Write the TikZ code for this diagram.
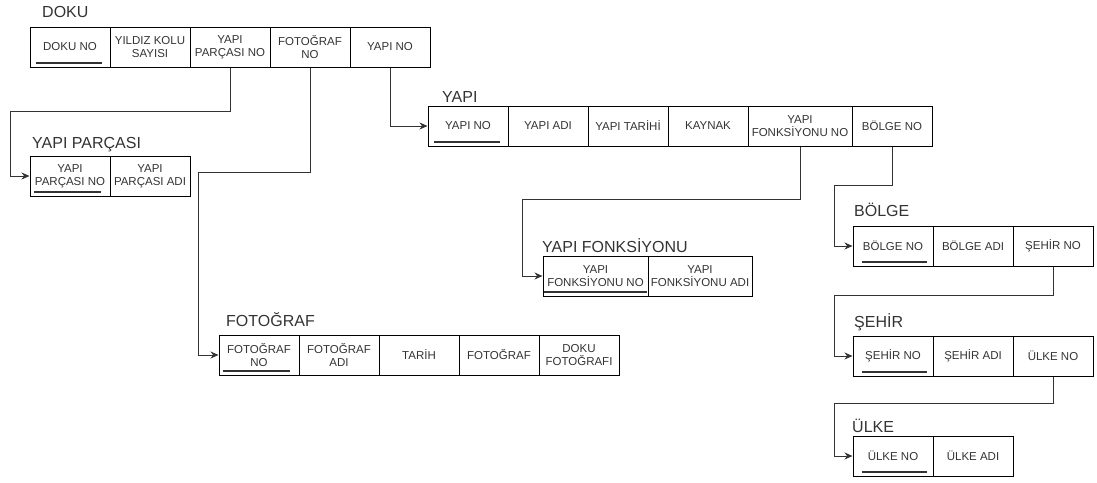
\documentclass[tikz,border=0pt]{standalone}
\usepackage{fontspec}
\setmainfont{Liberation Sans}
\usetikzlibrary{arrows.meta}
\definecolor{inkgray}{HTML}{333333}
\newcommand{\keyfield}[3]{\draw[keyline] ([xshift=#2, yshift=5pt]#1.south west) -- ([xshift=-#3, yshift=5pt]#1.south east);}

\begin{document}
\begin{tikzpicture}[
  x=1pt, y=-1pt,
  cell/.style={draw=black, line width=1pt, minimum width=80pt, minimum height=40pt, inner sep=1pt, align=center, text=inkgray, font=\fontsize{11.5}{13}\selectfont},
  widecell/.style={cell, minimum width=104pt},
  title/.style={anchor=base west, inner sep=0pt, text=inkgray, font=\fontsize{16}{19}\selectfont},
  keyline/.style={inkgray, line width=2pt},
  link/.style={-{Stealth[length=8pt, width=7pt]}, line width=1pt, inkgray}
]
  \useasboundingbox (0,0) rectangle (1097,482);

  \node[title] (tdoku) at (42,17) {DOKU};
  \node[cell] (doku1) at (70,47) {DOKU NO};
  \node[cell] (doku2) at (150,47) {YILDIZ KOLU\\SAYISI};
  \node[cell] (doku3) at (230,47) {YAPI\\PARÇASI NO};
  \node[cell] (doku4) at (310,47) {FOTOĞRAF\\NO};
  \node[cell] (doku5) at (390,47) {YAPI NO};

  \node[title] (typ) at (32,148) {YAPI PARÇASI};
  \node[cell] (yp1) at (70,176) {YAPI\\PARÇASI NO};
  \node[cell] (yp2) at (150,176) {YAPI\\PARÇASI ADI};

  \node[title] (tyapi) at (442,102) {YAPI};
  \node[cell] (yapi1) at (468,126) {YAPI NO};
  \node[cell] (yapi2) at (548,126) {YAPI ADI};
  \node[cell] (yapi3) at (628,126) {YAPI TARİHİ};
  \node[cell] (yapi4) at (708,126) {KAYNAK};
  \node[widecell] (yapi5) at (800,126) {YAPI\\FONKSİYONU NO};
  \node[cell] (yapi6) at (892,126) {BÖLGE NO};

  \node[title] (tyf) at (542,252) {YAPI FONKSİYONU};
  \node[widecell, minimum width=105pt] (yf1) at (595.5,276) {YAPI\\FONKSİYONU NO};
  \node[widecell] (yf2) at (700,276) {YAPI\\FONKSİYONU ADI};

  \node[title] (tbolge) at (854,216) {BÖLGE};
  \node[cell] (bolge1) at (893,246) {BÖLGE NO};
  \node[cell] (bolge2) at (973,246) {BÖLGE ADI};
  \node[cell] (bolge3) at (1053,246) {ŞEHİR NO};

  \node[title] (tsehir) at (854,327) {ŞEHİR};
  \node[cell] (sehir1) at (893,356) {ŞEHİR NO};
  \node[cell] (sehir2) at (973,356) {ŞEHİR ADI};
  \node[cell] (sehir3) at (1053,356) {ÜLKE NO};

  \node[title] (tulke) at (852,432) {ÜLKE};
  \node[cell] (ulke1) at (893,456) {ÜLKE NO};
  \node[cell] (ulke2) at (973,456) {ÜLKE ADI};

  \node[title] (tfoto) at (226,326) {FOTOĞRAF};
  \node[cell] (foto1) at (259,355) {FOTOĞRAF\\NO};
  \node[cell] (foto2) at (339,355) {FOTOĞRAF\\ADI};
  \node[cell] (foto3) at (419,355) {TARİH};
  \node[cell] (foto4) at (499,355) {FOTOĞRAF};
  \node[cell] (foto5) at (579,355) {DOKU\\FOTOĞRAFI};

  \keyfield{doku1}{6pt}{9pt}
  \keyfield{yp1}{4pt}{10pt}
  \keyfield{yapi1}{6pt}{9pt}
  \keyfield{yf1}{1pt}{2pt}
  \keyfield{bolge1}{9pt}{7pt}
  \keyfield{sehir1}{9pt}{7pt}
  \keyfield{ulke1}{9pt}{7pt}
  \keyfield{foto1}{4pt}{10pt}

  \draw[link] (doku3.south) -- ++(0,44) -| ([xshift=-19pt]yp1.west) -- (yp1.west);
  \draw[link] (doku4.south) -- ++(0,105) -| ([xshift=-20pt]foto1.west) -- (foto1.west);
  \draw[link] (doku5.south) |- (yapi1.west);
  \draw[link] (yapi5.south) -- ++(0,53) -| ([xshift=-20pt]yf1.west) -- (yf1.west);
  \draw[link] (yapi6.south) -- ++(0,39) -| ([xshift=-18pt]bolge1.west) -- (bolge1.west);
  \draw[link] (bolge3.south) -- ++(0,29) -| ([xshift=-18pt]sehir1.west) -- (sehir1.west);
  \draw[link] (sehir3.south) -- ++(0,27) -| ([xshift=-18pt]ulke1.west) -- (ulke1.west);
\end{tikzpicture}
\end{document}
